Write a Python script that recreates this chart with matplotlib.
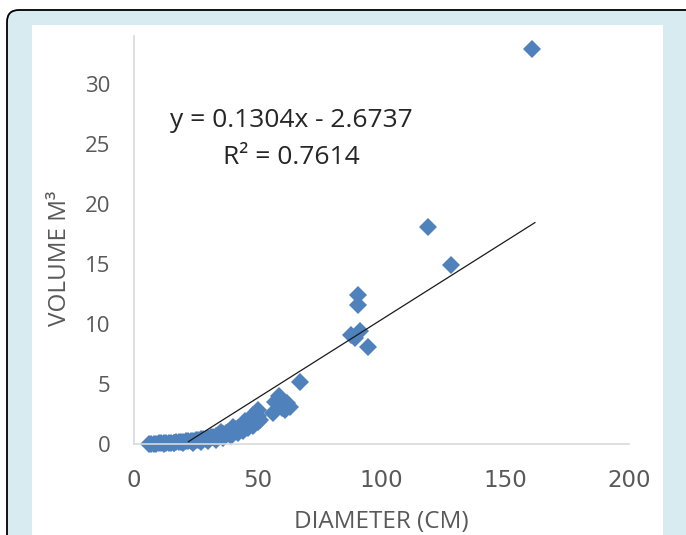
import matplotlib
matplotlib.use("Agg")
import matplotlib.pyplot as plt
from matplotlib.patches import FancyBboxPatch, Rectangle

# diameter (cm) and volume (m3)
diameter = [6, 7, 8, 9, 10, 11, 12, 13, 14, 15, 16, 17, 18, 19, 20,
            21, 22, 23, 24, 25, 26, 27, 28, 29, 30, 31, 32, 33, 34, 35,
            36, 37, 38, 39, 40, 41, 42, 43, 44, 45, 46, 47, 48, 49, 50,
            12, 16, 20, 24, 27, 30, 33, 36, 39, 42, 44, 46, 48, 50, 51,
            35, 40, 45, 48, 49, 50,
            56, 57, 58.5, 60, 61, 62, 63, 67,
            87.5, 89.3, 91.3, 90.4, 90.4, 94.5, 118.8, 128, 161]
volume = [0.02, 0.03, 0.03, 0.04, 0.05, 0.06, 0.07, 0.08, 0.09, 0.10, 0.12, 0.14, 0.15, 0.17, 0.19,
          0.22, 0.24, 0.26, 0.29, 0.31, 0.34, 0.38, 0.42, 0.45, 0.50, 0.55, 0.60, 0.66, 0.72, 0.78,
          0.85, 0.92, 1.00, 1.08, 1.15, 1.22, 1.30, 1.38, 1.47, 1.55, 1.66, 1.80, 1.95, 2.15, 2.35,
          0.02, 0.05, 0.08, 0.12, 0.15, 0.25, 0.35, 0.50, 0.70, 0.90, 1.10, 1.30, 1.50, 1.80, 2.00,
          1.00, 1.40, 1.90, 2.40, 2.50, 2.80,
          2.6, 3.5, 4.0, 3.0, 2.8, 3.4, 3.1, 5.2,
          9.1, 8.8, 9.4, 12.4, 11.6, 8.1, 18.1, 14.9, 32.9]

# linear trendline reported on the chart
slope = 0.1304
intercept = -2.6737
r_squared = 0.7614
trend_x = [22, 162]

x_ticks = [0, 50, 100, 150, 200]
y_ticks = [0, 5, 10, 15, 20, 25, 30]

grey = "#595959"
font = "Open Sans"

fig = plt.figure(figsize=(6.86, 5.35), dpi=100)
fig.patch.set_facecolor("white")

# rounded light blue frame and white chart area behind the axes
frame = FancyBboxPatch((0.07, -0.3), 7.2, 5.55,
                       boxstyle="round,pad=0,rounding_size=0.12",
                       transform=fig.dpi_scale_trans, facecolor="#d8ebf0",
                       edgecolor="black", linewidth=1.3, zorder=-2)
fig.patches.append(frame)
chart_area = Rectangle((0.32, -0.1), 6.31, 5.20, transform=fig.dpi_scale_trans,
                       facecolor="white", edgecolor="none", zorder=-1)
fig.patches.append(chart_area)

ax = fig.add_axes([0.1953, 0.1701, 0.7216, 0.7626])
ax.set_facecolor("none")

ax.plot(diameter, volume, linestyle="none", marker="D", markersize=9.5,
        color="#4f81bd", markeredgewidth=0, clip_on=False, zorder=2)

trend_y = [slope * x + intercept for x in trend_x]
ax.plot(trend_x, trend_y, color="#1a1a1a", linewidth=0.9, zorder=3)

ax.set_xlim(0, 200)
ax.set_ylim(0, 34)
ax.set_xticks(x_ticks)
ax.set_yticks(y_ticks)

for side in ["top", "right"]:
    ax.spines[side].set_visible(False)
for side in ["left", "bottom"]:
    ax.spines[side].set_color("#d9d9d9")
    ax.spines[side].set_linewidth(1.2)

ax.tick_params(axis="both", length=0, colors=grey)
ax.tick_params(axis="y", pad=17)
ax.tick_params(axis="x", pad=18)
for lbl in ax.get_yticklabels():
    lbl.set_fontfamily(font)
    lbl.set_fontsize(16)
for lbl in ax.get_xticklabels():
    lbl.set_fontfamily("DejaVu Sans")
    lbl.set_fontsize(16.5)

ax.set_xlabel("DIAMETER (CM)", fontfamily=font, fontsize=17.5, color=grey)
ax.xaxis.set_label_coords(0.5, -0.191)
ax.xaxis.label.set_verticalalignment("center")
ax.set_ylabel("VOLUME M³", fontfamily=font, fontsize=17.5, color=grey)
ax.yaxis.set_label_coords(-0.15, 0.454)
ax.yaxis.label.set_verticalalignment("center")

ax.text(0.317, 0.792, f"y = {slope}x - {abs(intercept)}", transform=ax.transAxes,
        ha="center", va="center", fontfamily=font, fontsize=19, color="#262626")
ax.text(0.317, 0.703, f"R² = {r_squared}", transform=ax.transAxes,
        ha="center", va="center", fontfamily=font, fontsize=19, color="#262626")

fig.savefig("out.png", dpi=100)
